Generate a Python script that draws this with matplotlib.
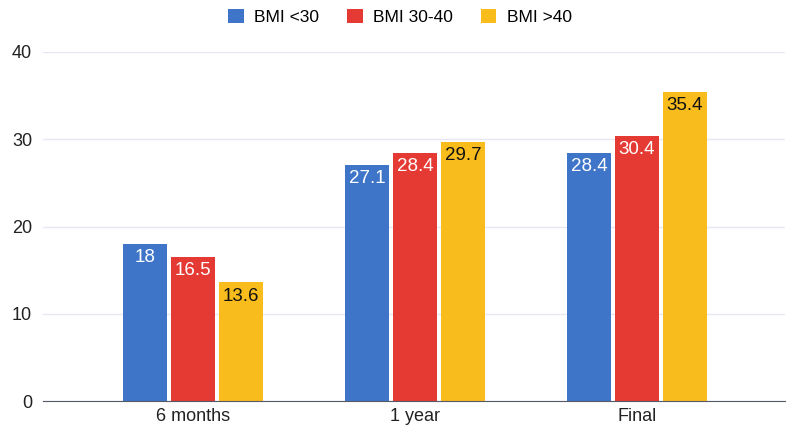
import matplotlib.pyplot as plt
import numpy as np

categories = ["6 months", "1 year", "Final"]
series = ["BMI <30", "BMI 30-40", "BMI >40"]
bmi_lt30 = [18, 27.1, 28.4]
bmi_30_40 = [16.5, 28.4, 30.4]
bmi_gt40 = [13.6, 29.7, 35.4]
labels = ["18", "27.1", "28.4"], ["16.5", "28.4", "30.4"], ["13.6", "29.7", "35.4"]

colors = ["#3f75c9", "#e43a33", "#f8bc1d"]
text_colors = ["white", "white", "#111111"]

plt.rcParams['font.family'] = ['Liberation Sans', 'DejaVu Sans']

fig = plt.figure(figsize=(8, 4.36), dpi=100)
ax = fig.add_axes([0.054, 0.080, 0.927, 0.801])

x = np.arange(len(categories))
width = 0.2
offsets = [-0.216, 0, 0.216]
for vals, lab, off, c, tc, name in zip([bmi_lt30, bmi_30_40, bmi_gt40], labels, offsets, colors, text_colors, series):
    bars = ax.bar(x + off, vals, width, color=c, label=name, zorder=3)
    for b, t in zip(bars, lab):
        ax.text(b.get_x() + b.get_width() / 2, b.get_height() - 0.6, t,
                ha="center", va="top", color=tc, fontsize=13.5, zorder=4)

ax.set_xlim(-0.676, 2.667)
ax.set_ylim(0, 40)
ax.set_yticks([0, 10, 20, 30, 40])
ax.set_xticks(x)
ax.set_xticklabels(categories)
ax.tick_params(axis="both", length=0, labelsize=13, colors="#222222")
ax.tick_params(axis="y", pad=8)
ax.tick_params(axis="x", pad=5)
ax.grid(axis="y", color="#e6e7f2", linewidth=1, zorder=0)
for s in ["top", "right", "left"]:
    ax.spines[s].set_visible(False)
ax.spines["bottom"].set_color("#555a66")
ax.spines["bottom"].set_zorder(5)

fig.legend(loc="upper center", bbox_to_anchor=(0.5, 1.015), ncol=3, frameon=False,
           fontsize=12.5, handlelength=0.9, handleheight=0.9, columnspacing=1.6, handletextpad=0.6)

fig.savefig("out.png", dpi=100)
